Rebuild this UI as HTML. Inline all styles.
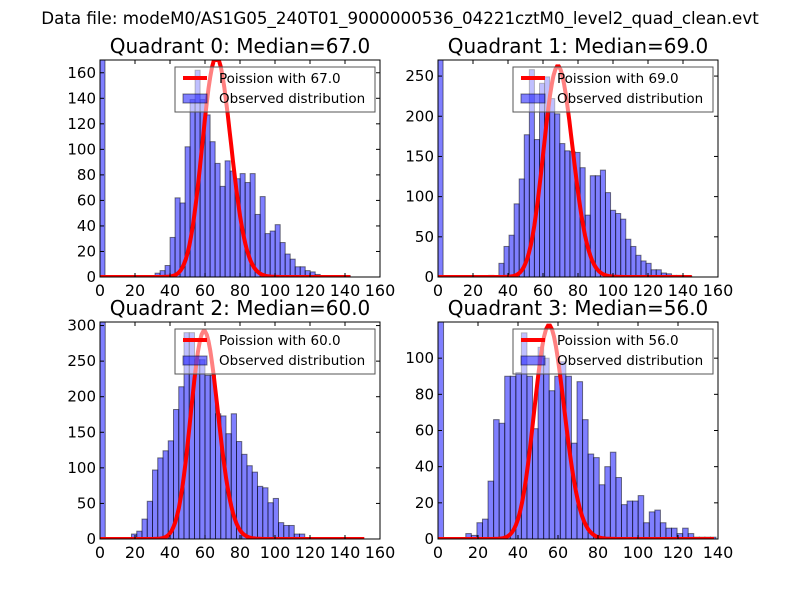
<!DOCTYPE html>
<html><head><meta charset="utf-8">
<style>
body{margin:0;background:#fff;}
svg text{font-family:"DejaVu Sans","Liberation Sans",sans-serif;}
</style></head>
<body>
<svg id="fig" width="800" height="600" viewBox="0 0 800 600" xmlns="http://www.w3.org/2000/svg">
<rect width="800" height="600" fill="#fff"/>
<text x="400" y="24" font-size="16.7" text-anchor="middle">Data file: modeM0/AS1G05_240T01_9000000536_04221cztM0_level2_quad_clean.evt</text>
</svg>
<script>
// Quadrant 0
const q0Counts=[500,0,0,0,0,0,0,0,0,0,0,3,5,9,31,62,58,102,139,162,139,127,106,89,71,91,83,77,81,74,81,49,63,34,36,41,27,18,14,8,8,5,4,2,1,0,0,1,0,1];
const q0BinWidth=2.86, q0Median=67, q0Peak=172, q0YMax=170, q0XMax=160, q0CurveMax=143;
const q0YTicks=[0,20,40,60,80,100,120,140,160];
const q0XTicks=[0,20,40,60,80,100,120,140,160];
// Quadrant 1
const q1Counts=[500,0,0,0,0,0,0,0,0,0,2,0,17,38,52,91,122,177,258,171,241,249,222,203,166,157,156,155,136,77,126,126,133,105,83,79,72,47,38,27,20,17,9,9,5,4,2,2,1,1];
const q1BinWidth=2.9, q1Median=69, q1Peak=262, q1YMax=270, q1XMax=160, q1CurveMax=145;
const q1YTicks=[0,50,100,150,200,250];
const q1XTicks=[0,20,40,60,80,100,120,140,160];
// Quadrant 2
const q2Counts=[500,0,0,0,0,0,7,11,28,53,97,114,124,138,182,214,290,290,252,252,230,230,176,173,148,176,137,119,103,94,74,72,51,57,23,19,19,7,7,1,0,0,0,0,0,0,0,0,0,0];
const q2BinWidth=3.0, q2Median=60, q2Peak=292, q2YMax=305, q2XMax=160, q2CurveMax=151;
const q2YTicks=[0,50,100,150,200,250,300];
const q2XTicks=[0,20,40,60,80,100,120,140,160];
// Quadrant 3
const q3Counts=[500,0,0,0,0,3,2,9,11,32,66,64,90,90,92,114,90,61,106,100,82,90,98,90,53,87,66,47,45,30,40,48,34,19,21,21,24,9,15,16,9,6,6,3,6,3,1,1,1,1];
const q3BinWidth=2.78, q3Median=56, q3Peak=118, q3YMax=120, q3XMax=140, q3CurveMax=138;
const q3YTicks=[0,20,40,60,80,100];
const q3XTicks=[0,20,40,60,80,100,120,140];

const NS="http://www.w3.org/2000/svg";
const fig=document.getElementById('fig');
function mk(tag,attrs,parent){const e=document.createElementNS(NS,tag);for(const k in attrs)e.setAttribute(k,attrs[k]);(parent||fig).appendChild(e);return e;}
function lpmf(k,l){let lg=0;for(let i=2;i<=k;i++)lg+=Math.log(i);return k*Math.log(l)-l-lg;}

function drawQuad(idx,L,T,counts,bw,med,peak,ymax,xmax,cmax,yt,xt){
  const W=280,H=217;
  const g=mk('g',{});
  
  
  const sx=v=>L+v/xmax*W, sy=v=>T+H-Math.min(v,ymax)/ymax*H;
  const cid='clip'+idx;
  const cp=mk('clipPath',{id:cid},g);mk('rect',{x:L,y:T,width:W,height:H},cp);
  const bars=mk('g',{'clip-path':'url(#'+cid+')'},g);
  counts.forEach((c,i)=>{
    if(c<=0)return;
    const r=mk('rect',{x:sx(i*bw),y:sy(c),width:sx(bw)-sx(0),height:sy(0)-sy(c),fill:'rgba(0,0,255,0.5)',stroke:'rgba(0,0,0,0.5)','stroke-width':1},bars);
    
    
  });
  const pm=Math.exp(lpmf(Math.round(med),med));
  let d='';
  for(let k=0;k<=cmax;k++){const v=Math.exp(lpmf(k,med))/pm*peak;d+=(k?'L':'M')+sx(k).toFixed(1)+','+sy(v).toFixed(1);}
  const cur=mk('path',{d:d,fill:'none',stroke:'#f00','stroke-width':4,'clip-path':'url(#'+cid+')'},g);
  
  
  const fr=mk('rect',{x:L,y:T,width:W,height:H,fill:'none',stroke:'#000','stroke-width':1},g);
  
  
  yt.forEach(v=>{const y=sy(v);
    mk('line',{x1:L,x2:L+4,y1:y,y2:y,stroke:'#000'},g);mk('line',{x1:L+W,x2:L+W-4,y1:y,y2:y,stroke:'#000'},g);
    const t=mk('text',{x:L-4,y:y+5,'font-size':15,'text-anchor':'end'},g);t.textContent=v;
    
    });
  xt.forEach(v=>{const x=sx(v);
    mk('line',{x1:x,x2:x,y1:T+H,y2:T+H-4,stroke:'#000'},g);mk('line',{x1:x,x2:x,y1:T,y2:T+4,stroke:'#000'},g);
    const t=mk('text',{x:x,y:T+H+19,'font-size':16,'text-anchor':'middle'},g);t.textContent=v;
    
    });
  const ti=mk('text',{x:L+W/2,y:T-7,'font-size':20,'text-anchor':'middle'},g);
  ti.textContent='Quadrant '+idx+': Median='+med.toFixed(1);
  
  
  const lg=mk('g',{},g);
  
  
  mk('rect',{x:L+75,y:T+7,width:200,height:45,fill:'rgba(255,255,255,0.5)',stroke:'#555','stroke-width':1},lg);
  mk('line',{x1:L+83,x2:L+107,y1:T+18,y2:T+18,stroke:'#f00','stroke-width':4},lg);
  mk('rect',{x:L+83,y:T+34,width:24,height:9,fill:'rgba(0,0,255,0.5)',stroke:'rgba(0,0,0,0.5)'},lg);
  const t1=mk('text',{x:L+119,y:T+23,'font-size':13.5},lg);t1.textContent='Poission with '+med.toFixed(1);
  
  
  const t2=mk('text',{x:L+119,y:T+43,'font-size':13.5},lg);t2.textContent='Observed distribution';
  
  
}
drawQuad(0,100,60,q0Counts,q0BinWidth,q0Median,q0Peak,q0YMax,q0XMax,q0CurveMax,q0YTicks,q0XTicks);
drawQuad(1,438,60,q1Counts,q1BinWidth,q1Median,q1Peak,q1YMax,q1XMax,q1CurveMax,q1YTicks,q1XTicks);
drawQuad(2,100,322,q2Counts,q2BinWidth,q2Median,q2Peak,q2YMax,q2XMax,q2CurveMax,q2YTicks,q2XTicks);
drawQuad(3,438,322,q3Counts,q3BinWidth,q3Median,q3Peak,q3YMax,q3XMax,q3CurveMax,q3YTicks,q3XTicks);
</script>
</body></html>
